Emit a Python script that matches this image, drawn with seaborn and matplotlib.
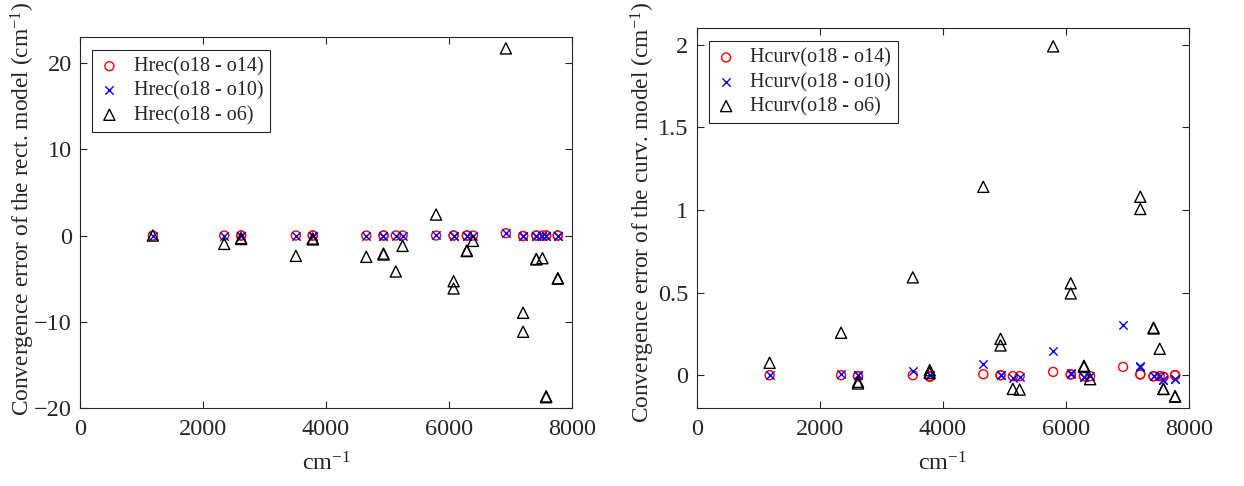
import numpy as np
import matplotlib
matplotlib.use('Agg')
import matplotlib.pyplot as plt
import seaborn as sns

# Data (wavenumber positions, cm-1)
x_cm = [1185, 2345, 2620, 2620, 3510, 3785, 3785, 4655, 4935, 4935,
        5135, 5245, 5790, 6075, 6075, 6290, 6290, 6390, 6925, 7205,
        7205, 7420, 7420, 7520, 7580, 7580, 7770, 7770]

# rect. model convergence errors
rec_o14 = [0, 0, 0, 0, 0, 0, 0, 0, 0, 0,
           0, 0, 0, 0, 0, 0, 0, 0, 0.27, -0.05,
           -0.05, 0, 0, 0, 0, 0, 0, 0]
rec_o10 = [0, 0, 0, 0, 0, 0, 0, 0, 0, 0,
           0, 0, 0.05, 0, 0, 0, 0, 0, 0.35, 0,
           0, 0, 0, 0, -0.05, -0.05, 0, 0]
rec_o6 = [0, -0.97, -0.3, -0.4, -2.36, -0.35, -0.45, -2.47, -2.1, -2.2,
          -4.17, -1.2, 2.43, -5.3, -6.14, -1.75, -1.8, -0.62, 21.7, -8.96,
          -11.16, -2.72, -2.76, -2.63, -18.65, -18.75, -4.95, -5.0]

# curv. model convergence errors
curv_o14 = [0, 0, -0.006, -0.006, 0, -0.01, -0.005, 0.006, 0, 0,
            -0.006, -0.006, 0.02, 0.006, 0.004, -0.006, -0.006, -0.006, 0.05, 0.006,
            0.004, -0.006, -0.006, -0.006, -0.01, -0.01, 0, 0]
curv_o10 = [0, 0.01, 0, 0, 0.024, 0, 0, 0.065, 0, 0,
            -0.016, -0.012, 0.147, 0.014, 0.01, -0.01, -0.01, -0.004, 0.303, 0.055,
            0.05, -0.004, -0.004, -0.004, -0.03, -0.03, -0.026, -0.026]
curv_o6 = [0.075, 0.257, -0.04, -0.05, 0.592, 0.03, 0.014, 1.14, 0.22, 0.18,
           -0.083, -0.087, 1.99, 0.556, 0.495, 0.057, 0.05, -0.024, 2.6, 1.08,
           1.006, 0.287, 0.283, 0.16, -0.083, -0.083, -0.127, -0.13]

x_ticks = [0, 2000, 4000, 6000, 8000]
rec_yticks = [-20, -10, 0, 10, 20]
curv_yticks = [0, 0.5, 1, 1.5, 2]
curv_yticklabels = ['0', '0.5', '1', '1.5', '2']

sns.set_style('ticks')
plt.rcParams['font.family'] = ['Liberation Serif', 'DejaVu Serif']
plt.rcParams['mathtext.fontset'] = 'custom'
plt.rcParams['mathtext.rm'] = 'Liberation Serif'
plt.rcParams['mathtext.default'] = 'regular'

AX_COLOR = '#262626'
FS = 17.5


def draw_panel(ax, y14, y10, y6, prefix, ylabel, ylim, yticks, yticklabels,
               ylab_xy, xlab_y):
    sns.scatterplot(x=x_cm, y=y14, ax=ax, marker='o', s=42, facecolor='none',
                    edgecolor='red', linewidth=1.0, label=f'{prefix}(o18 - o14)')
    sns.scatterplot(x=x_cm, y=y10, ax=ax, marker='x', s=36, color='blue',
                    linewidth=1.0, label=f'{prefix}(o18 - o10)')
    sns.scatterplot(x=x_cm, y=y6, ax=ax, marker='^', s=64, facecolor='none',
                    edgecolor='black', linewidth=1.0, label=f'{prefix}(o18 - o6)')

    ax.set_xlim(0, 8000)
    ax.set_ylim(*ylim)
    ax.set_xticks(x_ticks)
    ax.set_yticks(yticks)
    if yticklabels is not None:
        ax.set_yticklabels(yticklabels)
    ax.tick_params(direction='in', length=5, width=0.8, colors=AX_COLOR,
                   labelsize=FS, top=True, right=True)
    ax.tick_params(axis='x', pad=8)
    ax.tick_params(axis='y', pad=6)
    for sp in ax.spines.values():
        sp.set_visible(True)
        sp.set_color(AX_COLOR)
        sp.set_linewidth(0.8)
    ax.set_xlabel('cm$^{-1}$', fontsize=FS, color=AX_COLOR)
    ax.set_ylabel(ylabel, fontsize=16.8, color=AX_COLOR)
    ax.yaxis.set_label_coords(*ylab_xy)
    ax.xaxis.set_label_coords(0.5, xlab_y)

    leg = ax.legend(loc='upper left', bbox_to_anchor=(0.025, 0.965), borderaxespad=0,
                    fontsize=14.5, frameon=True, fancybox=False, handlelength=1.0,
                    handletextpad=0.7, borderpad=0.35, labelspacing=0.25)
    leg.get_frame().set_edgecolor(AX_COLOR)
    leg.get_frame().set_linewidth(0.8)
    leg.get_frame().set_alpha(1)


fig = plt.figure(figsize=(12.44, 4.86), dpi=100)
ax1 = fig.add_axes([0.0643, 0.1605, 0.3955, 0.763])
ax2 = fig.add_axes([0.560, 0.160, 0.396, 0.782])

draw_panel(ax1, rec_o14, rec_o10, rec_o6, 'Hrec',
           'Convergence error of the rect. model (cm$^{-1}$)', (-20, 23),
           rec_yticks, None, (-0.0874, 0.536), -0.1186)
draw_panel(ax2, curv_o14, curv_o10, curv_o6, 'Hcurv',
           'Convergence error of the curv. model (cm$^{-1}$)', (-0.2, 2.1),
           curv_yticks, curv_yticklabels, (-0.0812, 0.514), -0.115)

fig.savefig('out.png', dpi=100)
